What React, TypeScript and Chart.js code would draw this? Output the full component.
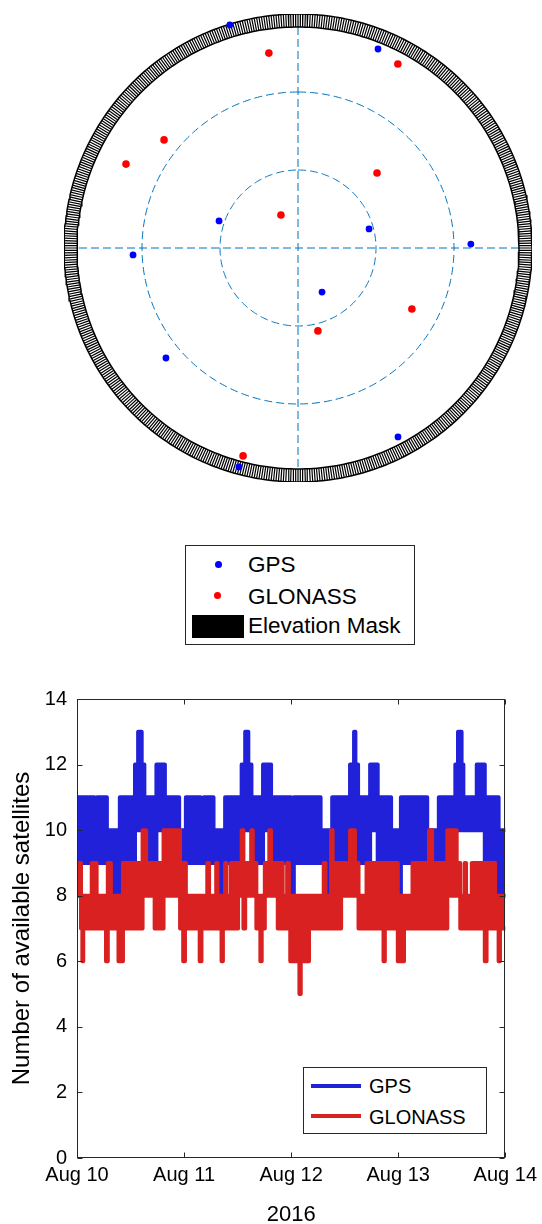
import React, { useEffect, useRef } from 'react';
import { Chart, registerables } from 'chart.js';

Chart.register(...registerables);

const FONT = '"Liberation Sans", Arial, Helvetica, sans-serif';

// ---------------- Sky plot data (azimuth clockwise from north, elevation in degrees)
const gpsAzimuth = [343.0, 21.9, 288.9, 75.0, 88.7, 267.6, 151.4, 230.2, 152.1, 195.1];
const gpsElevation = [0.3, 7.5, 57.9, 61.7, 23.5, 26.5, 70.7, 23.9, 7.8, 2.8];
const glonassAzimuth = [351.5, 28.5, 308.9, 296.0, 46.5, 332.7, 118.2, 166.5, 194.8];
const glonassElevation = [14.2, 9.5, 23.8, 16.4, 48.1, 75.7, 40.3, 57.2, 7.3];
const elevationMask = 5;
const elevationRings = [30, 60];
const maskSegments = 600;

// ---------------- Satellite count time series (hours since Aug 10 00:00)
// each entry: a block starting at that hour, with the lowest and highest count reached in it
const endHour = 96;
const xTickLabels = ['Aug 10', 'Aug 11', 'Aug 12', 'Aug 13', 'Aug 14'];
const yearLabel = '2016';

const gpsStart = [0, 0.5, 3.9, 4.5, 6.7, 8.3, 9.6, 13.0, 13.7, 14.5, 15.1, 17.8, 19.7, 22.9, 24.4, 27.7, 28.4, 30.6, 32.1, 32.6, 33.2, 36.9, 37.7, 38.4, 39.1, 41.7, 43.5, 48.0, 48.6, 54.6, 55.8, 56.6, 57.2, 61.2, 62.1, 62.4, 63.0, 65.7, 67.4, 70.4, 71.9, 72.6, 78.5, 81.1, 84.8, 85.4, 86.2, 86.6, 89.6, 91.4, 94.5];
const gpsLow = [8, 9, 9, 9, 9, 8, 9, 10, 10, 10, 9, 10, 9, 9, 9, 9, 9, 9, 8, 9, 9, 10, 10, 10, 9, 10, 9, 8, 9, 9, 8, 9, 9, 10, 10, 10, 9, 10, 9, 9, 8, 9, 9, 9, 10, 10, 10, 10, 10, 9, 8];
const gpsHigh = [11, 11, 10, 11, 10, 10, 11, 12, 13, 12, 11, 12, 11, 10, 11, 10, 11, 10, 10, 10, 11, 12, 13, 12, 11, 12, 11, 10, 11, 10, 10, 10, 11, 12, 13, 12, 11, 12, 11, 10, 10, 11, 10, 11, 12, 13, 12, 11, 12, 11, 10];

const glonassStart = [0, 0.9, 1.2, 1.4, 3.3, 4.4, 6.5, 6.9, 7.6, 9.3, 10.3, 14.7, 15.5, 17.4, 19.4, 23.1, 23.8, 24.2, 24.4, 27.5, 27.9, 29.2, 29.6, 31.2, 31.5, 32.4, 32.7, 33.2, 33.5, 34.5, 36.1, 36.9, 37.3, 37.7, 39.1, 39.4, 40.2, 41.1, 41.4, 42.1, 43.1, 43.5, 45.0, 46.1, 47.1, 47.5, 47.8, 49.85, 50.15, 52.0, 55.3, 55.7, 56.95, 57.3, 59.2, 61.2, 62.3, 63.1, 64.9, 68.7, 69.0, 71.9, 73.3, 75.2, 78.9, 79.6, 83.0, 85.1, 85.9, 86.9, 87.2, 88.5, 91.4, 91.8, 93.7, 94.5, 94.8];
const glonassLow = [8, 7, 6, 7, 7, 7, 6, 7, 7, 6, 7, 8, 8, 7, 8, 7, 6, 7, 7, 6, 7, 7, 7, 7, 7, 6, 7, 7, 7, 7, 8, 8, 7, 8, 8, 8, 7, 6, 7, 8, 8, 8, 7, 7, 7, 7, 6, 5, 6, 7, 7, 7, 7, 7, 8, 8, 8, 7, 7, 6, 7, 6, 7, 7, 7, 7, 8, 8, 7, 7, 7, 7, 6, 7, 7, 6, 7];
const glonassHigh = [9, 8, 8, 8, 9, 8, 8, 9, 8, 8, 9, 10, 9, 9, 10, 9, 9, 9, 8, 8, 8, 9, 8, 9, 8, 8, 8, 9, 8, 9, 9, 10, 9, 9, 10, 9, 8, 8, 8, 9, 10, 9, 9, 8, 9, 8, 8, 8, 8, 8, 9, 8, 10, 9, 9, 10, 9, 8, 9, 8, 9, 8, 8, 9, 10, 9, 10, 9, 8, 9, 8, 9, 9, 9, 8, 8, 8];

const GPS_DOT = 'rgb(0,0,255)';
const GLO_DOT = 'rgb(255,0,0)';
const GPS_LINE = 'rgb(33,33,217)';
const GLO_LINE = 'rgb(217,33,33)';
const DASH = 'rgb(0,114,189)';
const AXIS = '#262626';

function toXY(az: number, el: number) {
  const r = 90 - el;
  const a = (az * Math.PI) / 180;
  return { x: r * Math.sin(a), y: r * Math.cos(a) };
}

function circle(r: number) {
  const pts: { x: number; y: number }[] = [];
  for (let k = 0; k <= 360; k++) {
    const a = (k * Math.PI) / 180;
    pts.push({ x: r * Math.sin(a), y: r * Math.cos(a) });
  }
  return pts;
}

function stepPoints(times: number[], values: number[]) {
  const pts = times.map((t, i) => ({ x: t, y: values[i] }));
  pts.push({ x: endHour, y: values[values.length - 1] });
  return pts;
}

const boxPlugin = {
  id: 'matlabBox',
  afterDatasetsDraw(chart: any) {
    const { ctx, chartArea: a, scales } = chart;
    ctx.save();
    ctx.strokeStyle = AXIS;
    ctx.lineWidth = 1;
    const L = Math.round(a.left) + 0.5;
    const R = Math.round(a.right) - 0.5;
    const T = Math.round(a.top) + 0.5;
    const B = Math.round(a.bottom) - 0.5;
    ctx.strokeRect(L, T, R - L, B - T);
    ctx.beginPath();
    scales.x.ticks.forEach((t: any) => {
      const p = Math.round(scales.x.getPixelForValue(t.value)) + 0.5;
      ctx.moveTo(p, B); ctx.lineTo(p, B - 5);
      ctx.moveTo(p, T); ctx.lineTo(p, T + 5);
    });
    scales.y.ticks.forEach((t: any) => {
      const p = Math.round(scales.y.getPixelForValue(t.value)) + 0.5;
      ctx.moveTo(L, p); ctx.lineTo(L + 5, p);
      ctx.moveTo(R, p); ctx.lineTo(R - 5, p);
    });
    ctx.stroke();
    ctx.restore();
  },
};

function SkyPlot() {
  const ref = useRef<HTMLCanvasElement>(null);
  useEffect(() => {
    const spokes: any[] = [];
    for (let k = 0; k < maskSegments; k++) {
      const a = (k * 2 * Math.PI) / maskSegments;
      spokes.push({ x: 90 * Math.sin(a), y: 90 * Math.cos(a) });
      spokes.push({ x: (90 - elevationMask) * Math.sin(a), y: (90 - elevationMask) * Math.cos(a) });
      spokes.push({ x: 0, y: null });
    }
    const lim = 90 - elevationMask;
    const dashed = { showLine: true, borderColor: DASH, borderWidth: 1, borderDash: [8, 4], pointRadius: 0 };
    const chart = new Chart(ref.current as HTMLCanvasElement, {
      type: 'scatter',
      data: {
        datasets: [
          {
            label: 'GPS',
            data: gpsAzimuth.map((az, i) => toXY(az, gpsElevation[i])),
            backgroundColor: GPS_DOT, borderColor: GPS_DOT, pointRadius: 3.4, borderWidth: 0,
          },
          {
            label: 'GLONASS',
            data: glonassAzimuth.map((az, i) => toXY(az, glonassElevation[i])),
            backgroundColor: GLO_DOT, borderColor: GLO_DOT, pointRadius: 3.8, borderWidth: 0,
          },
          { label: 'mask spokes', data: spokes, showLine: true, spanGaps: false, borderColor: '#000', borderWidth: 1.2, pointRadius: 0 },
          { label: 'mask outer', data: circle(90), showLine: true, borderColor: '#000', borderWidth: 1.5, pointRadius: 0 },
          { label: 'mask inner', data: circle(90 - elevationMask), showLine: true, borderColor: '#000', borderWidth: 1.5, pointRadius: 0 },
          ...elevationRings.map((el) => ({ ...dashed, label: 'ring ' + el, data: circle(90 - el) })),
          { ...dashed, label: 'ew', data: [{ x: lim, y: 0 }, { x: -lim, y: 0 }] },
          { ...dashed, label: 'ns', data: [{ x: 0, y: lim }, { x: 0, y: -lim }] },
        ] as any,
      },
      options: {
        animation: false,
        responsive: false,
        devicePixelRatio: 1,
        events: [],
        layout: { padding: { left: 64, right: 10, top: 14, bottom: 38 } },
        scales: {
          x: { type: 'linear', min: -90, max: 90, display: false },
          y: { type: 'linear', min: -90, max: 90, display: false },
        },
        plugins: { legend: { display: false }, tooltip: { enabled: false } },
      },
    });
    return () => chart.destroy();
  }, []);
  return <canvas ref={ref} width={542} height={520} style={{ position: 'absolute', left: 0, top: 0 }} />;
}

function CountPlot() {
  const ref = useRef<HTMLCanvasElement>(null);
  useEffect(() => {
    const common = { stepped: true, pointRadius: 0, borderWidth: 4, borderJoinStyle: 'round', borderCapStyle: 'round' };
    const chart = new Chart(ref.current as HTMLCanvasElement, {
      type: 'line',
      data: {
        datasets: [
          { ...common, label: 'GPS max', data: stepPoints(gpsStart, gpsHigh), borderColor: GPS_LINE, fill: false, order: 1 },
          { ...common, label: 'GPS min', data: stepPoints(gpsStart, gpsLow), borderColor: GPS_LINE, backgroundColor: GPS_LINE, fill: '-1', order: 1 },
          { ...common, label: 'GLONASS max', data: stepPoints(glonassStart, glonassHigh), borderColor: GLO_LINE, fill: false, order: 0 },
          { ...common, label: 'GLONASS min', data: stepPoints(glonassStart, glonassLow), borderColor: GLO_LINE, backgroundColor: GLO_LINE, fill: '-1', order: 0 },
        ] as any,
      },
      options: {
        animation: false,
        responsive: false,
        devicePixelRatio: 1,
        events: [],
        layout: { padding: { left: 0, right: 31, top: 39, bottom: 0 } },
        scales: {
          x: {
            type: 'linear', min: 0, max: endHour,
            afterFit: (s: any) => { s.height = 66; },
            grid: { display: false, drawTicks: false },
            border: { display: false },
            ticks: {
              stepSize: 24, autoSkip: false, maxRotation: 0, padding: 5, color: '#000',
              font: { family: FONT, size: 20 },
              callback: (v: any) => xTickLabels[Math.round(Number(v) / 24)],
            },
            title: { display: true, text: yearLabel, color: '#000', font: { family: FONT, size: 22, lineHeight: 0.8 }, padding: { top: 0, bottom: 0 } },
          },
          y: {
            type: 'linear', min: 0, max: 14,
            afterFit: (s: any) => { s.width = 77; },
            grid: { display: false, drawTicks: false },
            border: { display: false },
            ticks: { stepSize: 2, padding: 10, color: '#000', font: { family: FONT, size: 20 } },
            title: { display: true, text: 'Number of available satellites', color: '#000', font: { family: FONT, size: 24 }, padding: { top: 7.5, bottom: 0 } },
          },
        },
        plugins: { legend: { display: false }, tooltip: { enabled: false } },
      },
      plugins: [boxPlugin],
    });
    return () => chart.destroy();
  }, []);
  return <canvas ref={ref} width={542} height={564} style={{ position: 'absolute', left: 0, top: 660 }} />;
}

const abs = (s: React.CSSProperties): React.CSSProperties => ({ position: 'absolute', ...s });

export default function App() {
  return (
    <div style={abs({ left: 0, top: 0, width: 542, height: 1224, background: '#fff', fontFamily: FONT, color: '#000', overflow: 'hidden' })}>
      <SkyPlot />
      {/* sky plot legend */}
      <div style={abs({ left: 185, top: 545, width: 230, height: 100, border: `1px solid ${AXIS}`, boxSizing: 'border-box', background: '#fff' })} />
      <div style={abs({ left: 214.5, top: 560.5, width: 7, height: 7, borderRadius: '50%', background: GPS_DOT })} />
      <div style={abs({ left: 213.5, top: 591.5, width: 7, height: 7, borderRadius: '50%', background: GLO_DOT })} />
      <div style={abs({ left: 192, top: 615, width: 52, height: 23, background: '#000' })} />
      <div style={abs({ left: 248, top: 554, fontSize: 22.5, lineHeight: '22px', whiteSpace: 'nowrap' })}>GPS</div>
      <div style={abs({ left: 248, top: 585.5, fontSize: 22.5, lineHeight: '22px', whiteSpace: 'nowrap' })}>GLONASS</div>
      <div style={abs({ left: 248, top: 614.5, fontSize: 22.5, lineHeight: '22px', whiteSpace: 'nowrap' })}>Elevation Mask</div>

      <CountPlot />
      {/* count plot legend */}
      <div style={abs({ left: 303, top: 1067, width: 184, height: 67, border: `1px solid ${AXIS}`, boxSizing: 'border-box', background: '#fff' })} />
      <div style={abs({ left: 311, top: 1084, width: 50, height: 4, background: GPS_LINE })} />
      <div style={abs({ left: 311, top: 1114, width: 50, height: 4, background: GLO_LINE })} />
      <div style={abs({ left: 369, top: 1076.2, fontSize: 20, lineHeight: '20px', whiteSpace: 'nowrap' })}>GPS</div>
      <div style={abs({ left: 369, top: 1106.5, fontSize: 20, lineHeight: '20px', whiteSpace: 'nowrap' })}>GLONASS</div>
    </div>
  );
}
